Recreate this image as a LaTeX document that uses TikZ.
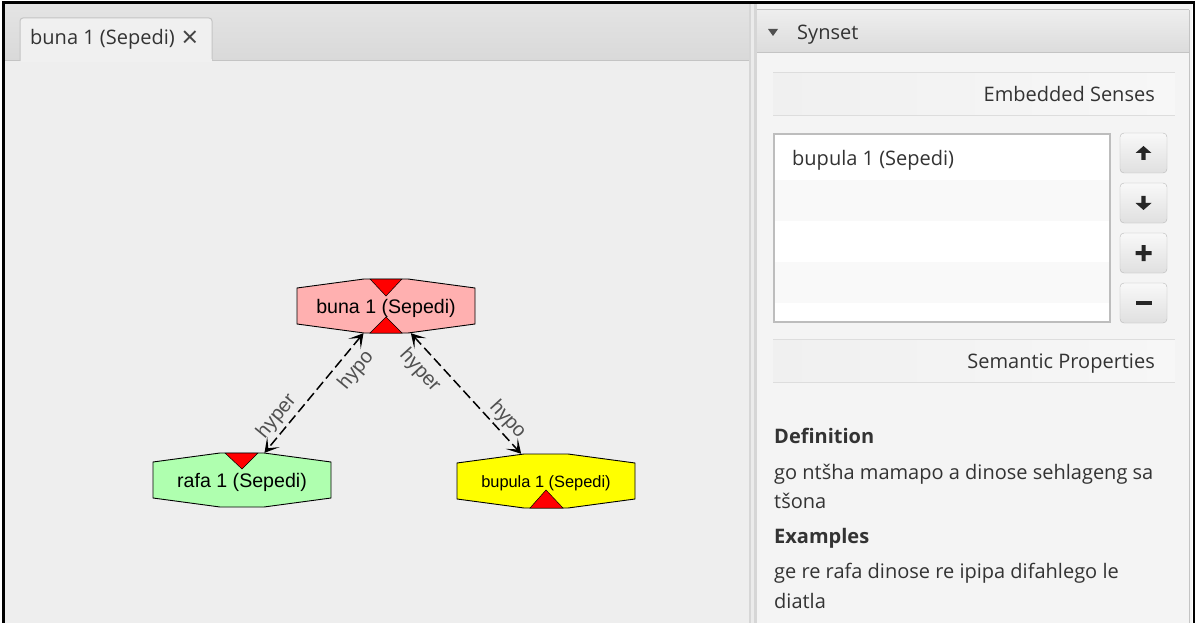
\documentclass[tikz,border=0pt]{standalone}
\usepackage{fontspec}
\setmainfont{Open Sans}
\newfontfamily\arialf{Liberation Sans}
\usetikzlibrary{arrows.meta,calc}
\pgfdeclarelayer{bg}
\pgfsetlayers{bg,main}
\definecolor{paneBg}{HTML}{EEEEEE}
\definecolor{tabBarTop}{HTML}{E4E4E4}
\definecolor{tabBarBot}{HTML}{D9D9D9}
\definecolor{tabFill}{HTML}{F0F0F0}
\definecolor{uiLine}{HTML}{C4C4C4}
\definecolor{divider}{HTML}{D6D6D6}
\definecolor{rightBg}{HTML}{F4F4F4}
\definecolor{hdrTop}{HTML}{EEEEEE}
\definecolor{hdrBot}{HTML}{DCDCDC}
\definecolor{txt}{HTML}{333333}
\definecolor{rowAlt}{HTML}{F9F9F9}
\definecolor{listLine}{HTML}{BDBDBD}
\definecolor{btnTop}{HTML}{F8F8F8}
\definecolor{btnBot}{HTML}{E0E0E0}
\definecolor{btnLine}{HTML}{B8B8B8}
\definecolor{secLine}{HTML}{DDDDDD}
\definecolor{secA}{HTML}{F0F0F0}
\definecolor{secB}{HTML}{F7F7F7}
\definecolor{pinkN}{HTML}{FFB0B0}
\definecolor{greenN}{HTML}{AFFFAF}
\definecolor{yellowN}{HTML}{FFFF00}
\definecolor{redT}{HTML}{FF0000}
\definecolor{lblGray}{HTML}{505050}
\definecolor{closeC}{HTML}{444444}
\definecolor{iconC}{HTML}{262626}
\begin{document}
\begin{tikzpicture}[x=1pt,y=-1pt,
  gnode/.style={rectangle,inner sep=0pt,minimum width=178pt,minimum height=54pt,text=black,
    text height=14pt,text depth=0pt},
  gfont/.style={font=\arialf\fontsize{19.6}{20}\selectfont},
  sfont/.style={font=\arialf\fontsize{16.4}{18}\selectfont,text height=12pt},
  oct/.style={draw=black,line width=0.9pt},
  tri/.style={fill=redT,draw=black,line width=0.5pt},
  rel/.style={draw=black,line width=1.5pt,dash pattern=on 10pt off 4.5pt,
    {Stealth[length=14pt,width=16pt,inset=8pt]}-{Stealth[length=14pt,width=16pt,inset=8pt]}},
  rlab/.style={text=lblGray,font=\arialf\fontsize{20}{20}\selectfont,sloped,inner sep=2pt},
  ui/.style={text=txt,font=\fontsize{20}{22}\selectfont,inner sep=0pt},
  uib/.style={text=txt,font=\bfseries\fontsize{20}{22}\selectfont,inner sep=0pt},
  btn/.style={draw=btnLine,rounded corners=4pt,top color=btnTop,bottom color=btnBot,
    minimum width=47pt,minimum height=40pt,inner sep=0pt},
  icon/.style={fill=iconC}
]
\useasboundingbox (0,0) rectangle (1195,623);

% ---------- graph nodes ----------
\node[gnode,gfont] (buna) at (386,306) {buna 1 (Sepedi)};
\node[gnode,gfont] (rafa) at (242,480) {rafa 1 (Sepedi)};
\node[gnode,sfont] (bupula) at (546,481) {bupula 1 (Sepedi)};

% ---------- connectors ----------
\draw[rel] (buna) -- (rafa)
  node[rlab,pos=0.215,below=6pt] {hypo}
  node[rlab,pos=0.77,above=1.5pt] {hyper};
\draw[rel] (buna) -- (bupula)
  node[rlab,pos=0.205,below=6.5pt] {hyper}
  node[rlab,pos=0.79,above=1pt] {hypo};

% ---------- left pane tab ----------
\node[ui,anchor=base west] (tabtxt) at (30,45) {buna 1 (Sepedi)};
\node[text=closeC,font=\fontsize{29}{29}\selectfont,inner sep=0pt] (tabclose) at (190,39) {×};

% ---------- right pane ----------
\node[ui,anchor=base west] (synset) at (797,40) {Synset};
\node[ui,anchor=base east] (emb) at (1155,102) {Embedded Senses};
\node[ui,anchor=base west] (item1) at (792,166) {bupula 1 (Sepedi)};
\node[btn] (bup) at (1143.5,153) {};
\node[btn] (bdown) at (1143.5,203) {};
\node[btn] (badd) at (1143.5,253) {};
\node[btn] (bdel) at (1143.5,303) {};
\fill[icon,shift={(bup.center)}] (0,-7) -- (8,0) -- (2.2,0) -- (2.2,7) -- (-2.2,7) -- (-2.2,0) -- (-8,0) -- cycle;
\fill[icon,shift={(bdown.center)}] (0,7) -- (8,0) -- (2.2,0) -- (2.2,-7) -- (-2.2,-7) -- (-2.2,0) -- (-8,0) -- cycle;
\fill[icon,shift={(badd.center)}] (-8,-2) rectangle (8,2) (-2,-8) rectangle (2,8);
\fill[icon,shift={(bdel.center)}] (-8,-2) rectangle (8,2);
\node[ui,anchor=base east] (sem) at (1155,368) {Semantic Properties};
\node[uib,anchor=base west] (defh) at (774,443) {Definition};
\node[ui,anchor=base west] (def1) at (774,479) {go ntšha mamapo a dinose sehlageng sa};
\node[ui,anchor=base west] (def2) at (774,508) {tšona};
\node[uib,anchor=base west] (exh) at (774,543) {Examples};
\node[ui,anchor=base west] (ex1) at (774,578) {ge re rafa dinose re ipipa difahlego le};
\node[ui,anchor=base west] (ex2) at (774,608) {diatla};

% ---------- backgrounds ----------
\begin{pgfonlayer}{bg}
\fill[white] (0,0) rectangle (1195,623);
% left pane
\shade[top color=tabBarTop,bottom color=tabBarBot] (5,4) rectangle (749,60);
\fill[paneBg] (5,60) rectangle (749,623);
\draw[uiLine,line width=1pt] (5,60.5) -- (749,60.5);
\draw[uiLine,line width=1pt,fill=tabFill,rounded corners=3pt] (20,61) -- (20,18) -- (212,18) -- (212,61);
\fill[tabFill] (20.5,59) rectangle (211.5,62);
% divider
\fill[divider] (749,4) rectangle (757,623);
\fill[white!92!black] (751,4) rectangle (754,623);
% right pane
\fill[rightBg] (757,4) rectangle (1192,623);
\shade[top color=hdrTop,bottom color=hdrBot] (757,10) rectangle (1189,52);
\draw[uiLine,line width=1pt] (757,52.5) -- (1189,52.5);
\draw[uiLine,line width=1pt] (757,10) -- (1189,10);
\draw[uiLine,line width=1.5pt] (1189.5,10) -- (1189.5,623);
\fill[lblGray] (768,29) -- (778,29) -- (773,36) -- cycle;
% section headers
\shade[left color=secA,right color=secB] (773,73) rectangle (1175,116);
\draw[secLine,line width=1pt] (773,73) -- (1175,73) (773,116) -- (1175,116);
\shade[left color=secA,right color=secB] (773,339) rectangle (1175,382);
\draw[secLine,line width=1pt] (773,339) -- (1175,339) (773,382) -- (1175,382);
% list
\fill[white] (774,134) rectangle (1110,322);
\fill[rowAlt] (775,180) rectangle (1109,221);
\fill[rowAlt] (775,262) rectangle (1109,303);
\draw[listLine,line width=1.8pt] (774,134) rectangle (1110,322);
% octagons
\foreach \n/\c in {buna/pinkN,rafa/greenN,bupula/yellowN}{
  \draw[oct,fill=\c,shift={(\n.center)}] (-89,-18) -- (-22,-27) -- (22,-27) -- (89,-18)
     -- (89,18) -- (22,27) -- (-22,27) -- (-89,18) -- cycle;
}
\draw[tri,shift={(buna.center)}] (-16,-27) -- (16,-27) -- (0,-10) -- cycle;
\draw[tri,shift={(buna.center)}] (-16,27) -- (16,27) -- (0,11) -- cycle;
\draw[tri,shift={(rafa.center)}] (-17,-27) -- (16,-27) -- (0,-11) -- cycle;
\draw[tri,shift={(bupula.center)}] (-16,27) -- (17,27) -- (0,9) -- cycle;
% black frame
\fill[black] (1.5,1.5) rectangle (5,623);
\fill[black] (1.5,1.5) rectangle (1195,4.5);
\fill[black] (1192.5,1.5) rectangle (1195,623);
\end{pgfonlayer}
\end{tikzpicture}
\end{document}
